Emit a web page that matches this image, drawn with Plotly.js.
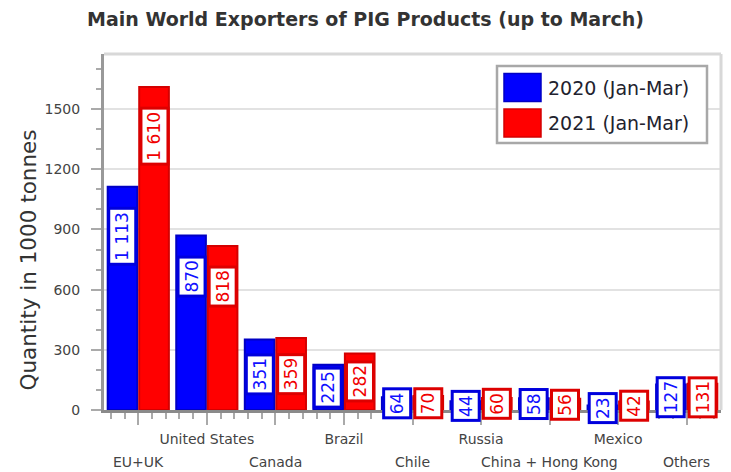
<!DOCTYPE html>
<html>
<head>
<meta charset="utf-8">
<script src="https://cdn.plot.ly/plotly-3.0.1.min.js"></script>
<style>html,body{margin:0;padding:0;background:#fff;}#chart{width:731px;height:472px;}</style>
</head>
<body>
<div id="chart"></div>
<script>
const categories = ['EU+UK','United States','Canada','Brazil','Chile','Russia','China + Hong Kong','Mexico','Others'];
const seriesNames = ['2020 (Jan-Mar)','2021 (Jan-Mar)'];
const values2020 = [1113,870,351,225,64,44,58,23,127];
const values2021 = [1610,818,359,282,70,60,56,42,131];
const yTickValues = [0,300,600,900,1200,1500];
const yTitle = 'Quantity in 1000 tonnes';

const W = 731, H = 472;
const M = {l:104, r:10, t:54, b:62};
const plotW = W - M.l - M.r, plotH = H - M.t - M.b;
const yMax = 1775;
const pxPerUnit = plotH / yMax;
const bargap = 0.08, bargroupgap = 0.06;
const slotOffset = (1 - bargap) / 4;

const fills = ['#0000ff','#ff0000'];
const edges = ['#0000c4','#d40000'];
const textCols = ['#1010ff','#f00000'];
const boxCols = ['#0000dd','#dd0000'];

const idx = categories.map((c,i)=>i);
const series = [values2020, values2021];

function fmt(v){ return String(v).replace(/\B(?=(\d{3})+(?!\d))/g,' '); }

const traces = series.map((vals,s)=>({
  type:'bar', x: idx, y: vals, name: seriesNames[s],
  marker:{color: fills[s], line:{color: edges[s], width:2}},
  hoverinfo:'skip', showlegend:false
}));

const annotations = [];
series.forEach((vals,s)=>{
  vals.forEach((v,i)=>{
    const t = fmt(v);
    const boxLen = t.length*10.8 + 10;
    const barPx = v*pxPerUnit;
    const top = barPx > boxLen + 44;
    annotations.push({
      x: i + (s===0 ? -slotOffset : slotOffset), xref:'x',
      y: top ? v : v/2, yref:'y',
      yanchor: top ? 'top' : 'middle', yshift: top ? -20 : 0,
      text: t, textangle:-90, showarrow:false,
      font:{family:'DejaVu Sans', size:17, color:textCols[s]},
      bgcolor:'#ffffff', bordercolor: boxCols[s], borderwidth:3, borderpad:2
    });
  });
});

// lower row of category labels
categories.forEach((c,i)=>{
  if (i%2===0) annotations.push({
    x:i, xref:'x', y:0, yref:'paper', yanchor:'middle', yshift:-51.5,
    text:c, showarrow:false, font:{family:'DejaVu Sans', size:14, color:'#444'}
  });
});

// custom legend and y title (pixel -> paper)
const px2x = px => (px - M.l)/plotW;
const py2y = py => (M.t + plotH - py)/plotH;
annotations.push({xref:'paper', yref:'paper', x:px2x(28), y:py2y(260.5), xanchor:'center', yanchor:'middle', textangle:-90, text:yTitle, showarrow:false, font:{family:'DejaVu Sans', size:21.5, color:'#333'}});
const shapes = [
  {type:'line', xref:'paper', yref:'paper', x0:0, x1:1, y0:1, y1:1, line:{color:'#d8d8d8', width:3}},
  {type:'line', xref:'paper', yref:'paper', x0:1, x1:1, y0:0, y1:1, line:{color:'#d8d8d8', width:3}},
  {type:'rect', xref:'paper', yref:'paper', x0:px2x(497), x1:px2x(707), y0:py2y(66), y1:py2y(143), fillcolor:'#ffffff', line:{color:'#a8a8a8', width:2.5}}
];
const legendRows = [87.5, 123];
seriesNames.forEach((n,s)=>{
  const cy = legendRows[s];
  shapes.push({type:'rect', xref:'paper', yref:'paper', x0:px2x(504), x1:px2x(541), y0:py2y(cy-14), y1:py2y(cy+14), fillcolor:fills[s], line:{color:edges[s], width:1.5}});
  annotations.push({xref:'paper', yref:'paper', x:px2x(546), y:py2y(cy), xanchor:'left', yanchor:'middle', text:n, showarrow:false, font:{family:'DejaVu Sans', size:19, color:'#22222e'}});
});

const layout = {
  width:W, height:H, margin:M,
  paper_bgcolor:'#ffffff', plot_bgcolor:'#ffffff',
  font:{family:'DejaVu Sans', color:'#444'},
  title:{text:'<b>Main World Exporters of PIG Products (up to March)</b>', x:0.5, xanchor:'center', y:1-19/H, yanchor:'middle', font:{family:'DejaVu Sans', size:19, color:'#333'}},
  barmode:'group', bargap:bargap, bargroupgap:bargroupgap,
  xaxis:{
    range:[-0.5,8.5], tickmode:'array', tickvals:idx,
    ticktext: categories.map((c,i)=> i%2===1 ? c : ''),
    ticks:'outside', ticklen:12, tickwidth:2, tickcolor:'#aaaaaa',
    minor:{dtick:0.2, tick0:0, ticks:'outside', ticklen:6, tickwidth:2, tickcolor:'#aaaaaa', showgrid:false},
    showline:true, linecolor:'rgba(60,60,60,0.6)', linewidth:3,
    showgrid:false, zeroline:false,
    tickfont:{family:'DejaVu Sans', size:14, color:'#444'}, ticklabelstandoff:2
  },
  yaxis:{
    range:[0,yMax], tickmode:'array', tickvals:yTickValues,
    ticks:'outside', ticklen:10, tickwidth:2, tickcolor:'#aaaaaa',
    minor:{dtick:100, tick0:0, ticks:'outside', ticklen:5, tickwidth:2, tickcolor:'#aaaaaa', showgrid:false},
    showline:true, linecolor:'#999999', linewidth:3,
    showgrid:true, gridcolor:'#e2e2e2', gridwidth:2, zeroline:false,
    tickfont:{family:'DejaVu Sans', size:14, color:'#444'}, ticklabelstandoff:8
  },
  annotations:annotations, shapes:shapes, showlegend:false
};

Plotly.newPlot('chart', traces, layout, {displayModeBar:false, staticPlot:true});
</script>
</body>
</html>
